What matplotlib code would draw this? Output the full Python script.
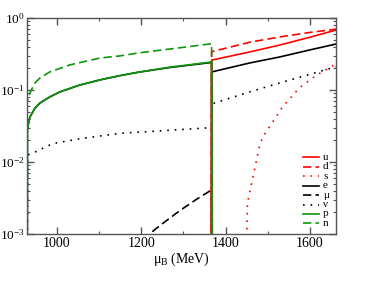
import numpy as np
import matplotlib
matplotlib.use("Agg")
import matplotlib.pyplot as plt
from matplotlib.ticker import MultipleLocator, LogLocator

plt.rcParams['font.family'] = ['Liberation Serif', 'DejaVu Serif']
plt.rcParams['mathtext.fontset'] = 'custom'
plt.rcParams['mathtext.rm'] = 'Liberation Serif'
plt.rcParams['mathtext.it'] = 'Liberation Serif:italic'

# hadronic phase (mu_B in MeV, particle fractions)
mu_n = [928.5, 929, 936, 948, 960, 983, 1031, 1102, 1149, 1192, 1267, 1362, 1367, 1369]
y_n = [1e-5, 0.068, 0.091, 0.125, 0.147, 0.178, 0.223, 0.278, 0.297, 0.326, 0.37, 0.435, 0.44, 1e-5]

mu_p = [929.5, 930, 936, 948, 960, 983, 1007, 1054, 1102, 1149, 1192, 1267, 1367, 1370]
y_p = [1e-5, 0.029, 0.042, 0.056, 0.066, 0.080, 0.094, 0.117, 0.138, 0.158, 0.176, 0.207, 0.245, 1e-5]

mu_e_h = [929.5, 930, 936, 948, 960, 983, 1007, 1054, 1102, 1149, 1192, 1267, 1367, 1369]
y_e_h = [1e-5, 0.029, 0.042, 0.056, 0.066, 0.080, 0.094, 0.117, 0.138, 0.158, 0.176, 0.205, 0.241, 1e-5]

mu_mu = [1225, 1228, 1251, 1291, 1330, 1367, 1368]
y_mu = [1e-5, 0.0011, 0.0014, 0.0021, 0.003, 0.0041, 1e-5]

mu_nu_h = [930, 930.5, 943, 990, 1054, 1149, 1367, 1369]
y_nu_h = [1e-5, 0.0125, 0.0133, 0.018, 0.021, 0.025, 0.030, 1e-5]

# quark phase
mu_u = [1366, 1367, 1457, 1528, 1600, 1662]
y_u = [1e-5, 0.26, 0.337, 0.42, 0.54, 0.68]

mu_d = [1366, 1367, 1457, 1528, 1600, 1662]
y_d = [1e-5, 0.34, 0.46, 0.545, 0.63, 0.70]

mu_s = [1443, 1452, 1480, 1488, 1535, 1575, 1615, 1653, 1662]
y_s = [1e-5, 0.0027, 0.016, 0.022, 0.058, 0.107, 0.16, 0.215, 0.23]

mu_e_q = [1366, 1367, 1457, 1528, 1600, 1662]
y_e_q = [1e-5, 0.178, 0.237, 0.287, 0.36, 0.435]

mu_nu_q = [1366, 1367, 1457, 1528, 1600, 1662]
y_nu_q = [1e-5, 0.064, 0.094, 0.125, 0.165, 0.21]

labels = ['u', 'd', 's', 'e', 'μ', 'ν', 'p', 'n']

red = '#ff0000'
green = '#0c960c'
blk = 'black'
lw = 1.2
dash = (0, (5, 2.5))
dot = (0, (1, 3.5))

fig = plt.figure(figsize=(3.81, 2.81), dpi=100)
ax = fig.add_axes([0.0696, 0.1673, 0.8123, 0.7687])

ax.plot(mu_e_h, y_e_h, color=blk, lw=lw)
ax.plot(mu_mu, y_mu, color=blk, lw=lw, linestyle=dash)
ax.plot(mu_nu_h, y_nu_h, color=blk, lw=lw, linestyle=dot)
ax.plot(mu_e_q, y_e_q, color=blk, lw=lw)
ax.plot(mu_nu_q, y_nu_q, color=blk, lw=lw, linestyle=dot)
ax.plot(mu_u, y_u, color=red, lw=lw)
ax.plot(mu_d, y_d, color=red, lw=lw, linestyle=dash)
ax.plot(mu_s, y_s, color=red, lw=lw, linestyle=dot)
ax.plot(mu_n, y_n, color=green, lw=lw, linestyle=dash)
ax.plot(mu_p, y_p, color=green, lw=lw)

ax.set_yscale('log')
ax.set_xlim(928, 1662)
ax.set_ylim(1e-3, 1)
ax.xaxis.set_major_locator(MultipleLocator(200))
ax.xaxis.set_minor_locator(MultipleLocator(100))
ax.yaxis.set_minor_locator(LogLocator(base=10, subs=np.arange(2, 10)))
ax.yaxis.set_minor_formatter(plt.NullFormatter())

for s in ax.spines.values():
    s.set_color('#555555')
    s.set_linewidth(1.0)
ax.tick_params(which='both', direction='in', top=True, right=True, colors='#555555', labelcolor='black', labelsize=10)
ax.tick_params(which='major', length=5, width=1.0, pad=2)
ax.tick_params(which='minor', length=2.5, width=0.8)
ax.tick_params(axis='y', which='major', pad=1, labelsize=9.5)

ax.set_xlabel(r'$\mathregular{μ_B}$ (MeV)', fontsize=10, labelpad=1)

# legend drawn by hand (grace style, tight rows)
styles = [(red, '-'), (red, dash), (red, dot), (blk, '-'), (blk, dash), (blk, dot), (green, '-'), (green, dash)]
y0 = 0.355
step = 0.0437
for i, (lab, (c, ls)) in enumerate(zip(labels, styles)):
    yy = y0 - i * step
    ax.plot([0.893, 0.945], [yy, yy], color=c, lw=lw, linestyle=ls, transform=ax.transAxes, clip_on=False)
    ax.text(0.958, yy, lab, transform=ax.transAxes, fontsize=8, va='center', ha='left')

fig.savefig('out.png', dpi=100)
